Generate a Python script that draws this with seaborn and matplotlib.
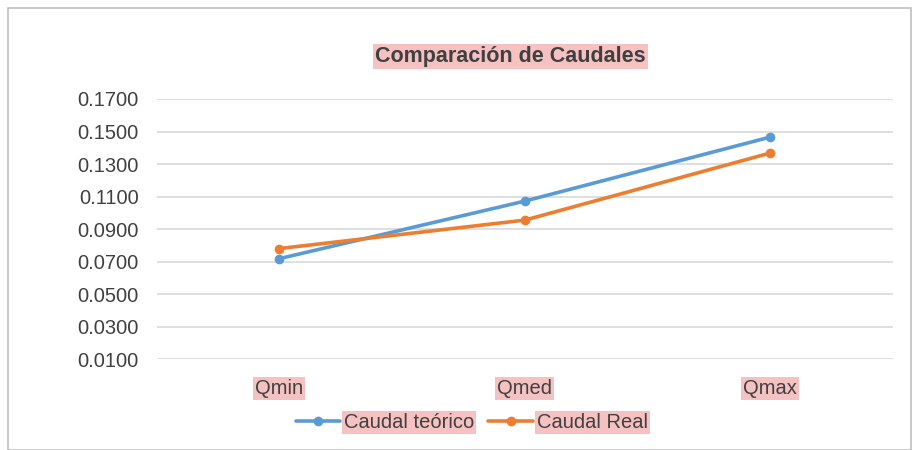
import matplotlib
matplotlib.use("Agg")
import matplotlib.pyplot as plt
import seaborn as sns
import pandas as pd
from matplotlib.patches import Rectangle

categories = ["Qmin", "Qmed", "Qmax"]
caudal_teorico = [0.0718, 0.1072, 0.1466]
caudal_real = [0.0780, 0.0955, 0.1368]
series_names = ["Caudal teórico", "Caudal Real"]
yticks = [0.01, 0.03, 0.05, 0.07, 0.09, 0.11, 0.13, 0.15, 0.17]
title = "Comparación de Caudales"

sns.set_theme(style="white")
plt.rcParams['font.family'] = ['Liberation Sans', 'DejaVu Sans']

df = pd.DataFrame({
    "cat": categories * 2,
    "val": caudal_teorico + caudal_real,
    "serie": [series_names[0]] * 3 + [series_names[1]] * 3,
})

fig = plt.figure(figsize=(9.16, 4.5), dpi=100)
ax = fig.add_axes([0.171, 0.202, 0.804, 0.578])
palette = {series_names[0]: "#5B9BD5", series_names[1]: "#ED7D31"}
sns.lineplot(data=df, x="cat", y="val", hue="serie", palette=palette, ax=ax,
             marker="o", markersize=7, markeredgewidth=0, linewidth=2.6,
             sort=False, legend=True)

ax.set_xlim(-0.5, 2.5)
ax.set_ylim(0.01, 0.17)
ax.set_yticks(yticks)
ax.set_yticklabels([f"{v:.4f}" for v in yticks])
ax.yaxis.grid(True, color="#D9D9D9", linewidth=1.2)
ax.set_axisbelow(True)
for s in ax.spines.values():
    s.set_visible(False)
ax.set_xlabel("")
ax.set_ylabel("")
ax.tick_params(axis="y", length=0, pad=13, labelsize=14.5, colors="#404040")
ax.tick_params(axis="x", length=0, pad=14, labelsize=14.5, colors="#404040")
for lbl in ax.get_xticklabels():
    lbl.set_bbox(dict(facecolor="#F4B6B6", edgecolor="none", pad=1.5, alpha=0.85))

fig.text(0.557, 0.875, title, ha="center", va="center", fontsize=15.5, fontweight="bold",
         color="#404040", bbox=dict(facecolor="#F4B6B6", edgecolor="none", pad=1.5, alpha=0.85))

h, l = ax.get_legend_handles_labels()
ax.get_legend().remove()
leg = fig.legend(h, l, loc="center", bbox_to_anchor=(0.515, 0.062), ncol=2, frameon=False,
                 fontsize=14.5, handlelength=2.2, columnspacing=0.7, handletextpad=0.2)
for t in leg.get_texts():
    t.set_color("#404040")
    t.set_bbox(dict(facecolor="#F4B6B6", edgecolor="none", pad=1.5, alpha=0.85))

fig.patches.append(Rectangle((0.009, 0.0), 0.985, 0.982, transform=fig.transFigure,
                             fill=False, edgecolor="#BFBFBF", linewidth=1.2))

fig.savefig("out.png", dpi=100)
